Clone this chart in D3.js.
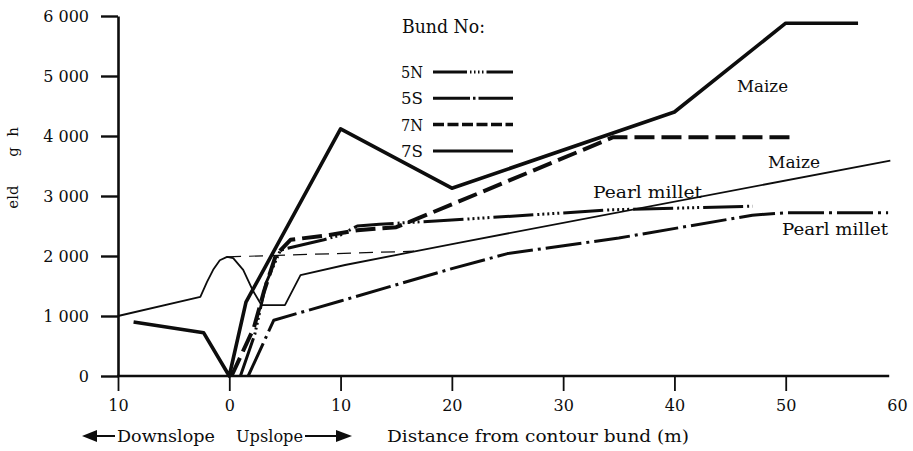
<!DOCTYPE html>
<html><head><meta charset="utf-8">
<script src="https://cdn.jsdelivr.net/npm/d3@7"></script>
<style>
html,body{margin:0;padding:0;background:#fff;}
svg{display:block;}
text{font-family:"DejaVu Serif","Liberation Serif",serif;fill:#0d0d0d;}
</style></head><body>
<svg id="chart" width="913" height="451"></svg>
<script>
// Axis ticks and labels
const xTicks = [-10, 0, 10, 20, 30, 40, 50, 60];
const xTickLabels = ["10", "0", "10", "20", "30", "40", "50", "60"];
const yTicks = [0, 1000, 2000, 3000, 4000, 5000, 6000];
const yTickLabels = ["0", "1 000", "2 000", "3 000", "4 000", "5 000", "6 000"];

// Yield (kg/ha) against distance from the contour bund (m); negative = downslope
const bund7S = [[-8.6, 900], [-2.3, 720], [0, 0], [1.5, 1230], [10, 4120], [20, 3130], [40, 4400], [50, 5880], [56.5, 5880]];
const bund7N = [[0.2, 0], [2.2, 800], [3.1, 1400], [4.2, 2020], [5.5, 2270], [9, 2350], [11.5, 2430], [15, 2480], [17, 2630], [20, 2860], [34.5, 3980], [50.6, 3980]];
const bund5N = [[1, 0], [2.3, 700], [3.3, 1550], [4.6, 2100], [8.5, 2270], [10, 2350], [11.5, 2500], [13.5, 2530], [20, 2600], [34.4, 2770], [47, 2830]];
const bund5S = [[1.7, 0], [4, 930], [10, 1250], [20, 1790], [25, 2040], [35, 2300], [47, 2680], [50, 2720], [59.2, 2720]];
const maizeLower = [[-10, 1000], [-2.6, 1320], [-2.0, 1570], [-1.45, 1770], [-0.85, 1930], [-0.2, 1985], [0.35, 1965], [1.25, 1770], [2.1, 1430], [2.9, 1180], [5, 1180], [6.4, 1680], [10.4, 1850], [20.6, 2220], [59.4, 3590]];
const maizeLowerLink = [[-0.2, 1985], [16.6, 2080]];

const legendNames = ["5N", "5S", "7N", "7S"];

const ink = "#0d0d0d";
const svg = d3.select("#chart");

const x = d3.scaleLinear().domain([-10, 60]).range([118, 897]);
const y = d3.scaleLinear().domain([0, 6000]).range([376, 16]);

const line = d3.line().x(d => x(d[0])).y(d => y(d[1]));

// Line styles
const styles = {
  "7S": {w: 3.6, dash: null},
  "7N": {w: 4, dash: "20,7"},
  "5N": {w: 3, dash: "40,4,2,3,2,3,2,3,2,3,2,4"},
  "5S": {w: 3, dash: "36,5,3,5"},
  "thin": {w: 1.8, dash: null},
  "thinDash": {w: 1.2, dash: "14,8"}
};
const legendDash = {"5N": "34,3,1.5,2.5,1.5,2.5,1.5,2.5,1.5,3", "5S": "37,3,2.5,3", "7N": "11,3.5", "7S": null};

const series = [
  {data: maizeLower, s: "thin"},
  {data: maizeLowerLink, s: "thinDash"},
  {data: bund5S, s: "5S"},
  {data: bund5N, s: "5N"},
  {data: bund7N, s: "7N"},
  {data: bund7S, s: "7S"}
];

// Y axis
const yAxis = d3.axisLeft(y).tickValues(yTicks).tickFormat((d, i) => yTickLabels[i])
  .tickSize(17).tickSizeOuter(0).tickPadding(12);
const gy = svg.append("g").attr("transform", `translate(${x(-10)},0)`).call(yAxis);
gy.select(".domain").attr("stroke", ink).attr("stroke-width", 2.6);
gy.selectAll(".tick line").attr("stroke", ink).attr("stroke-width", 2.4);
gy.selectAll(".tick text").attr("font-size", 16).attr("fill", ink)
  .attr("font-family", "'DejaVu Serif',serif");

// X axis
const xAxis = d3.axisBottom(x).tickValues(xTicks).tickFormat((d, i) => xTickLabels[i])
  .tickSize(15).tickSizeOuter(0).tickPadding(9);
const gx = svg.append("g").attr("transform", `translate(0,${y(0)})`).call(xAxis);
gx.select(".domain").remove();
gx.append("line").attr("x1", x(-10) - 1).attr("x2", x(59.3)).attr("y1", 0).attr("y2", 0)
  .attr("stroke", ink).attr("stroke-width", 2.6);
gx.selectAll(".tick line").attr("stroke", ink).attr("stroke-width", 1.8)
  .attr("display", d => d === 60 ? "none" : null);
gx.selectAll(".tick text").attr("font-size", 16).attr("fill", ink)
  .attr("font-family", "'DejaVu Serif',serif");

// Series lines
svg.append("g").selectAll("path").data(series).join("path")
  .attr("d", d => line(d.data))
  .attr("fill", "none")
  .attr("stroke", ink)
  .attr("stroke-width", d => styles[d.s].w)
  .attr("stroke-dasharray", d => styles[d.s].dash)
  .attr("stroke-linejoin", "round");

// Legend
svg.append("text").attr("x", 402).attr("y", 33).attr("font-size", 18)
  .attr("textLength", 83).attr("lengthAdjust", "spacingAndGlyphs").text("Bund No:");
const lg = svg.append("g").selectAll("g").data(legendNames).join("g")
  .attr("transform", (d, i) => `translate(0,${72 + i * 26.3})`);
lg.append("text").attr("x", 401).attr("y", 6).attr("font-size", 17)
  .attr("textLength", 22).attr("lengthAdjust", "spacingAndGlyphs").text(d => d);
lg.append("line").attr("x1", 433).attr("x2", 513).attr("y1", 0).attr("y2", 0)
  .attr("stroke", ink)
  .attr("stroke-width", d => d === "7N" ? 3.5 : 3)
  .attr("stroke-dasharray", d => legendDash[d]);

// Crop labels
const cropLabels = [
  {t: "Maize", x: 737, y: 92, w: 51},
  {t: "Maize", x: 768, y: 168, w: 52},
  {t: "Pearl millet", x: 593, y: 198, w: 109},
  {t: "Pearl millet", x: 782, y: 235, w: 106}
];
svg.append("g").selectAll("text").data(cropLabels).join("text")
  .attr("x", d => d.x).attr("y", d => d.y).attr("font-size", 16)
  .attr("textLength", d => d.w).attr("lengthAdjust", "spacingAndGlyphs")
  .text(d => d.t);

// Y axis title (partly legible)
const yTitle = [{t: "eld", c: 197}, {t: "g", c: 152}, {t: "h", c: 132}];
svg.append("g").selectAll("text").data(yTitle).join("text")
  .attr("transform", d => `translate(18,${d.c}) rotate(-90)`)
  .attr("text-anchor", "middle").attr("font-size", 15).text(d => d.t);

// X axis title and slope direction
svg.append("text").attr("x", 387).attr("y", 442).attr("font-size", 16)
  .attr("textLength", 302).attr("lengthAdjust", "spacingAndGlyphs")
  .text("Distance from contour bund (m)");
svg.append("text").attr("x", 117).attr("y", 442).attr("font-size", 17)
  .attr("textLength", 98).attr("lengthAdjust", "spacingAndGlyphs").text("Downslope");
svg.append("text").attr("x", 236).attr("y", 442).attr("font-size", 17)
  .attr("textLength", 67).attr("lengthAdjust", "spacingAndGlyphs").text("Upslope");
const ay = 436;
svg.append("path").attr("d", `M82,${ay} L97,${ay - 6} L97,${ay + 6} Z`).attr("fill", ink);
svg.append("line").attr("x1", 96).attr("x2", 115).attr("y1", ay).attr("y2", ay).attr("stroke", ink).attr("stroke-width", 2);
svg.append("line").attr("x1", 305).attr("x2", 337).attr("y1", ay).attr("y2", ay).attr("stroke", ink).attr("stroke-width", 2);
svg.append("path").attr("d", `M352,${ay} L336,${ay - 6} L336,${ay + 6} Z`).attr("fill", ink);
</script>
</body></html>
